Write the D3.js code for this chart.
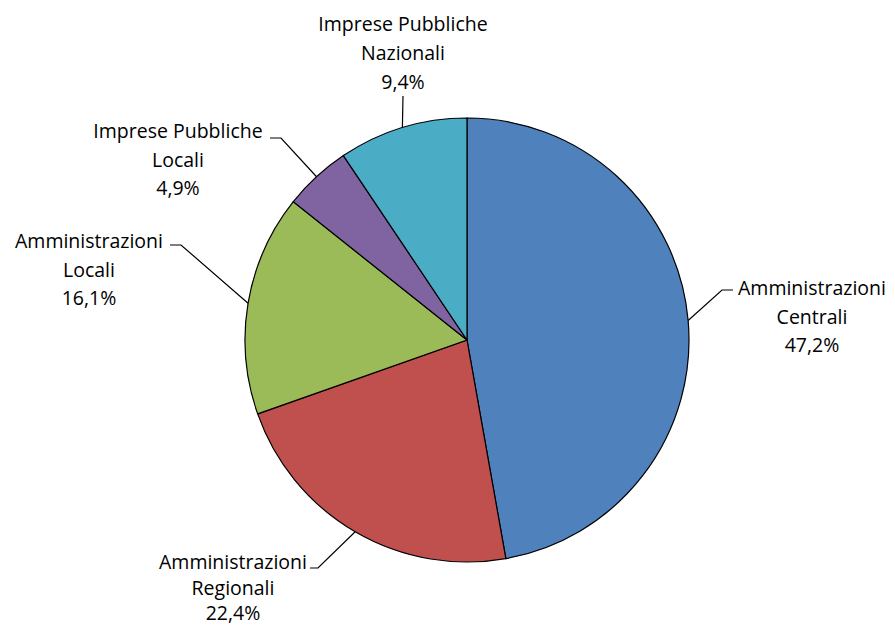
<!DOCTYPE html>
<html><head><meta charset="utf-8">
<script src="https://cdn.jsdelivr.net/npm/d3@7"></script>
<style>body{margin:0;background:#fff}text{font-family:"Open Sans",sans-serif;font-size:19.5px;fill:#000}</style>
</head><body><svg id="c" width="895" height="628"></svg>
<script>
const categories = ["Amministrazioni Centrali","Amministrazioni Regionali","Amministrazioni Locali","Imprese Pubbliche Locali","Imprese Pubbliche Nazionali"];
const labelLines = [["Amministrazioni","Centrali"],["Amministrazioni","Regionali"],["Amministrazioni","Locali"],["Imprese Pubbliche","Locali"],["Imprese Pubbliche","Nazionali"]];
const values = [47.2, 22.4, 16.1, 4.9, 9.4];
const colors = ["#4F81BD","#C0504D","#9BBB59","#8064A2","#4BACC6"];

const svg = d3.select("#c");
const cx = 467, cy = 340, r = 222;
const g = svg.append("g").attr("transform", `translate(${cx},${cy})`);
const pie = d3.pie().sort(null).value(d => d);
const arcs = pie(values);
const arc = d3.arc().innerRadius(0).outerRadius(r);
g.selectAll("path").data(arcs).enter().append("path")
  .attr("d", arc).attr("fill", (d,i) => colors[i])
  .attr("stroke", "#000").attr("stroke-width", 1.2);

const layout = [
  {x: 812, y: 295, dy: 28.5, pts: [[722,290],[733,290]]},
  {x: 233, y: 569, dy: 25.5, pts: [[318,568],[310,568]]},
  {x: 89,  y: 248, dy: 28.5, pts: [[181,245],[170,245]]},
  {x: 178, y: 138, dy: 28.5, pts: [[281,138],[270,138]]},
  {x: 403, y: 31,  dy: 29, pts: [[403,96]]}
];
const fmt = v => d3.format(".1f")(v).replace(".", ",") + "%";
arcs.forEach((a, i) => {
  const m = (a.startAngle + a.endAngle) / 2;
  const p0 = [cx + r * Math.sin(m), cy - r * Math.cos(m)];
  const L = layout[i];
  svg.append("polyline")
    .attr("points", [p0, ...L.pts].map(p => p.join(",")).join(" "))
    .attr("fill", "none").attr("stroke", "#000").attr("stroke-width", 1.2);
  const t = svg.append("text").attr("text-anchor", "middle");
  const lines = [...labelLines[i], fmt(values[i])];
  lines.forEach((s, k) => t.append("tspan").attr("x", L.x).attr("y", L.y + k * L.dy).text(s));
});
</script></body></html>
